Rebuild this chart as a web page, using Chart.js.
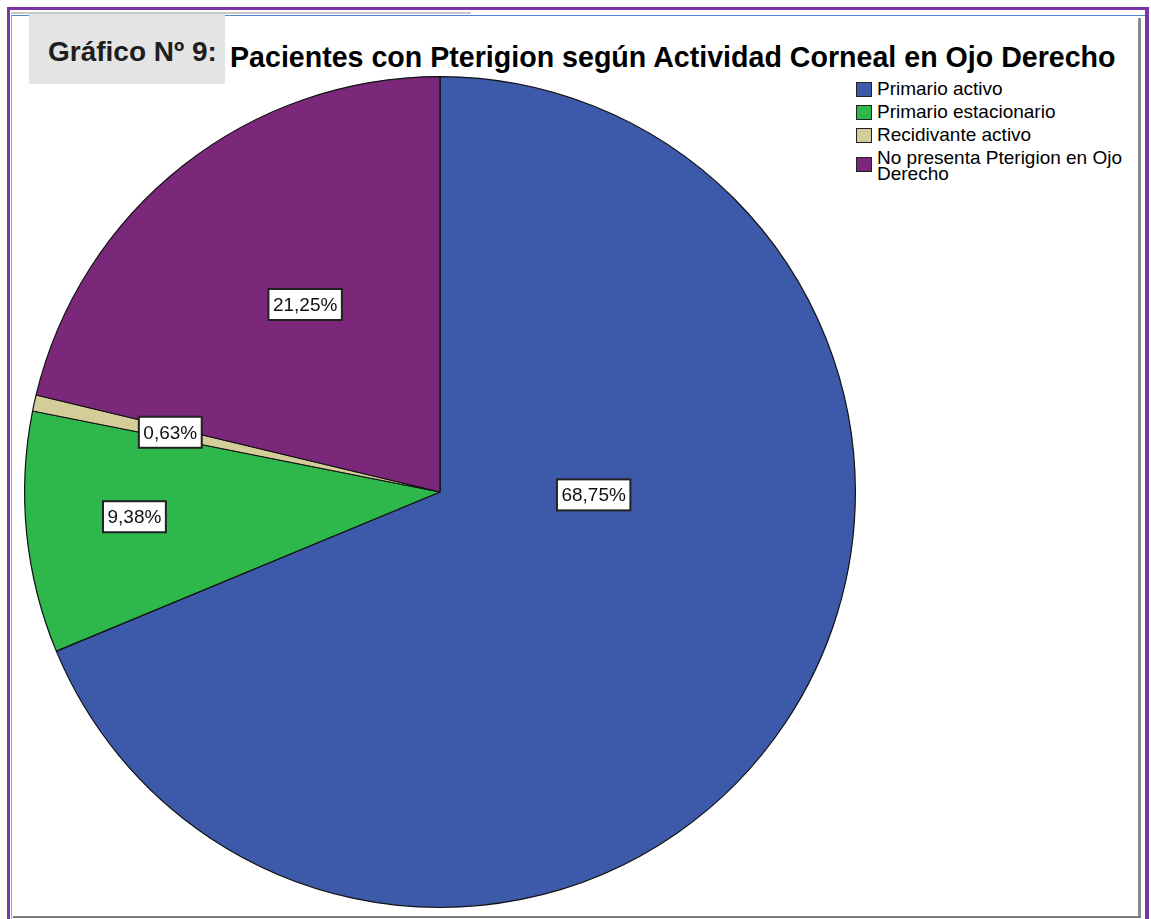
<!DOCTYPE html>
<html>
<head>
<meta charset="utf-8">
<script src="https://cdn.jsdelivr.net/npm/chart.js@4.4.1/dist/chart.umd.min.js"></script>
<style>
body { margin: 0; background: #fff; font-family: "Liberation Sans", Arial, sans-serif; }
#page { position: relative; width: 1151px; height: 919px; overflow: hidden; }
.ln { position: absolute; }
#tag { position: absolute; left: 29px; top: 14px; width: 196px; height: 70px; background: #e4e4e4; }
#tag span { position: absolute; left: 19px; top: 24px; font: bold 28px "Liberation Sans", Arial, sans-serif; color: #1e1e1e; line-height: 1; }
#title { position: absolute; left: 230px; top: 43px; font: bold 28.6px "Liberation Sans", Arial, sans-serif; color: #000; line-height: 1; white-space: nowrap; }
#legend { position: absolute; left: 856px; top: 81px; font: 19px "Liberation Sans", Arial, sans-serif; color: #000; }
.item { position: relative; padding-left: 21px; line-height: 16px; margin-bottom: 7px; width: 275px; }
.sw { position: absolute; left: 0; width: 14px; height: 13px; border: 1.5px solid #222; }
#myChart { position: absolute; left: 0; top: 0; }
</style>
</head>
<body>
<div id="page">
  <div class="ln" style="left:7px;top:7px;width:1142px;height:3px;background:#7b35a8"></div>
  <div class="ln" style="left:7px;top:7px;width:3px;height:912px;background:#7b35a8"></div>
  <div class="ln" style="left:1145px;top:7px;width:4px;height:912px;background:#7b35a8"></div>
  <div class="ln" style="left:11px;top:12px;width:460px;height:2px;background:#c8c8c8"></div>
  <div class="ln" style="left:11px;top:15px;width:1134px;height:1px;background:#4a8ad0"></div>
  <div class="ln" style="left:11px;top:15px;width:1px;height:904px;background:#8aa8e8"></div>
  <div class="ln" style="left:1138px;top:18px;width:3px;height:900px;background:#8a8a8a"></div>
  <div class="ln" style="left:13px;top:916px;width:1128px;height:2px;background:#7a7a7a"></div>
  <div id="tag"><span>Gráfico Nº 9:</span></div>
  <div id="title">Pacientes con Pterigion según Actividad Corneal en Ojo Derecho</div>
  <div id="legend"></div>
  <canvas id="myChart" width="1151" height="919"></canvas>
</div>
<script>
var categories = ['Primario activo', 'Primario estacionario', 'Recidivante activo', 'No presenta Pterigion en Ojo Derecho'];
var legendLines = [['Primario activo'], ['Primario estacionario'], ['Recidivante activo'], ['No presenta Pterigion en Ojo', 'Derecho']];
var percentages = [68.75, 9.38, 0.63, 21.25];
var sliceColors = ['#3d59aa', '#2eb84b', '#d3cd99', '#7b287b'];

// where each label sits inside its slice: share of the slice angle, share of the radius
var labelSpots = [[0.368, 0.37], [0.53, 0.738], [0.55, 0.665], [0.533, 0.556]];

function fmt(v) {
    return v.toFixed(2).replace('.', ',') + '%';
}

var legendBox = document.getElementById('legend');
for (let i = 0; i < categories.length; i++) {
    let item = document.createElement('div');
    item.className = 'item';
    let sw = document.createElement('div');
    sw.className = 'sw';
    sw.style.background = sliceColors[i];
    sw.style.top = legendLines[i].length > 1 ? '7px' : '1px';
    item.appendChild(sw);
    item.insertAdjacentHTML('beforeend', legendLines[i].join('<br>'));
    legendBox.appendChild(item);
}

const boxLabels = {
    id: 'boxLabels',
    afterDatasetsDraw(chart) {
        const ctx = chart.ctx;
        const arcs = chart.getDatasetMeta(0).data;
        ctx.save();
        ctx.font = '19px "Liberation Sans", Arial, sans-serif';
        ctx.textAlign = 'center';
        ctx.textBaseline = 'middle';
        for (let i = 0; i < arcs.length; i++) {
            const a = arcs[i];
            const ang = a.startAngle + labelSpots[i][0] * (a.endAngle - a.startAngle);
            const r = a.outerRadius * labelSpots[i][1];
            const x = a.x + Math.cos(ang) * r;
            const y = a.y + Math.sin(ang) * r;
            const txt = fmt(percentages[i]);
            const w = ctx.measureText(txt).width + 9;
            const h = 31;
            ctx.fillStyle = '#fff';
            ctx.fillRect(x - w / 2, y - h / 2, w, h);
            ctx.lineWidth = 2;
            ctx.strokeStyle = '#222';
            ctx.strokeRect(x - w / 2, y - h / 2, w, h);
            ctx.fillStyle = '#111';
            ctx.fillText(txt, x, y + 1);
        }
        ctx.restore();
    }
};

var myChart = new Chart(document.getElementById('myChart'), {
    type: 'pie',
    data: {
        labels: categories,
        datasets: [{
            data: percentages,
            backgroundColor: sliceColors,
            borderColor: '#111',
            borderWidth: 1.2
        }]
    },
    options: {
        responsive: false,
        devicePixelRatio: 1,
        animation: false,
        layout: { padding: { left: 24, top: 76, right: 295, bottom: 11 } },
        plugins: {
            legend: { display: false },
            tooltip: { enabled: false }
        }
    },
    plugins: [boxLabels]
});
</script>
</body>
</html>
